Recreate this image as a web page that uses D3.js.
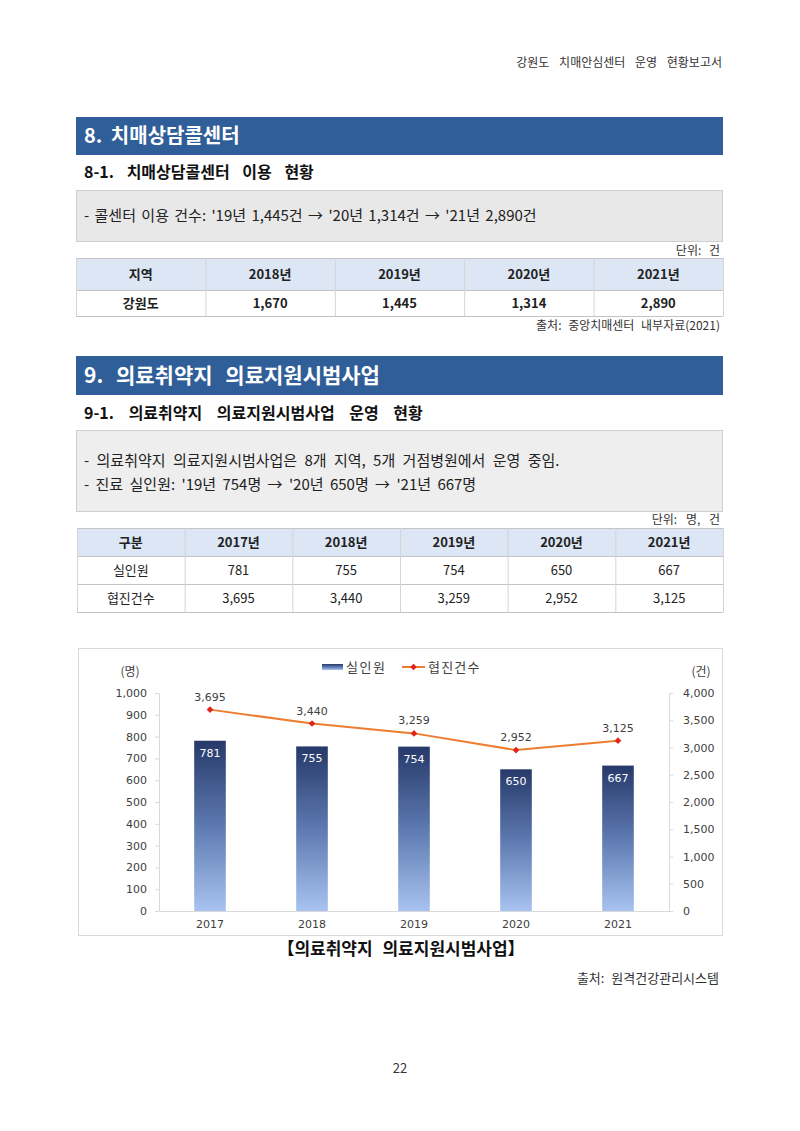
<!DOCTYPE html>
<html>
<head>
<meta charset="utf-8">
<script src="https://cdn.jsdelivr.net/npm/d3@7"></script>
<style>
body { margin: 0; background: #fff; }
svg { display: block; }
</style>
</head>
<body>
<svg id="svg"></svg>
<script>
// section 8 table
var callHead = ["지역", "2018년", "2019년", "2020년", "2021년"];
var callRegion = "강원도";
var callCounts = [1670, 1445, 1314, 2890];

// section 9 table + chart
var tableHead = ["구분", "2017년", "2018년", "2019년", "2020년", "2021년"];
var years = ["2017", "2018", "2019", "2020", "2021"];
var patients = [781, 755, 754, 650, 667];
var consults = [3695, 3440, 3259, 2952, 3125];
var seriesNames = ["실인원", "협진건수"];
var leftTicks = [0, 100, 200, 300, 400, 500, 600, 700, 800, 900, 1000];
var rightTicks = [0, 500, 1000, 1500, 2000, 2500, 3000, 3500, 4000];

var width = 800, height = 1131;
var KR = "'Noto Sans CJK KR', 'Noto Sans', sans-serif";
var CH = "'DejaVu Sans', 'Noto Sans CJK KR', sans-serif";
var fmt = d3.format(",");

var svg = d3.select("#svg")
	.attr("width", width)
	.attr("height", height)
	.style("font-family", KR);

function text(x, y, str, size, anchor, weight, color, ws)
{
	return svg.append("text")
		.attr("x", x)
		.attr("y", y)
		.attr("text-anchor", anchor || "start")
		.style("font-size", size + "px")
		.style("font-weight", weight || "normal")
		.style("word-spacing", (ws || 0) + "px")
		.style("fill", color || "#222")
		.text(str);
}

function sectionBar(y0, y1, str, baseline, size, ws)
{
	svg.append("rect")
		.attr("x", 76).attr("y", y0)
		.attr("width", 647).attr("height", y1 - y0)
		.style("fill", "#305e98");
	text(84, baseline, str, size, "start", "bold", "#fff", ws);
}

function grayBox(y0, y1, fill)
{
	svg.append("rect")
		.attr("x", 76.5).attr("y", y0 + 0.5)
		.attr("width", 646).attr("height", y1 - y0)
		.style("fill", fill)
		.style("stroke", "#cfcfcf");
}

function table(x0, x1, rowsY, head, rows, boldBody)
{
	var n = head.length;
	var cx = d3.scaleBand().domain(d3.range(n)).range([x0, x1]);
	svg.append("rect")
		.attr("x", x0).attr("y", rowsY[0])
		.attr("width", x1 - x0).attr("height", rowsY[1] - rowsY[0])
		.style("fill", "#dce6f4");
	rowsY.forEach(function(y) {
		svg.append("line")
			.attr("x1", x0).attr("x2", x1)
			.attr("y1", y + 0.5).attr("y2", y + 0.5)
			.style("stroke", "#c4c4c4");
	});
	d3.range(n + 1).forEach(function(i) {
		var x = i == n ? x1 : cx(i);
		svg.append("line")
			.attr("x1", x + 0.5).attr("x2", x + 0.5)
			.attr("y1", rowsY[0]).attr("y2", rowsY[rowsY.length - 1])
			.style("stroke", "#d4d4d4");
	});
	var all = [head].concat(rows);
	all.forEach(function(r, j) {
		var yc = (rowsY[j] + rowsY[j + 1]) / 2 + 5;
		r.forEach(function(v, i) {
			text(cx(i) + cx.bandwidth() / 2, yc, v, 13, "middle",
				(j == 0 || boldBody) ? "bold" : "normal", "#222");
		});
	});
}

// page header
text(722, 67, "강원도 치매안심센터 운영 현황보고서", 12, "end", "normal", "#333", 7);

// ---- section 8
sectionBar(117, 155, "8. 치매상담콜센터", 143, 20, 4);
text(84, 178, "8-1. 치매상담콜센터 이용 현황", 16, "start", "bold", "#111", 9);
grayBox(190, 241, "#e8e8e8");
text(84, 221, "- 콜센터 이용 건수: '19년 1,445건 → '20년 1,314건 → '21년 2,890건", 15, "start", "normal", "#222", 2);
text(720, 255, "단위: 건", 12, "end", "normal", "#333", 5);
table(76, 723, [258, 290, 316], callHead, [[callRegion].concat(callCounts.map(fmt))], true);
text(720, 330, "출처: 중앙치매센터 내부자료(2021)", 12, "end", "normal", "#333", 4);

// ---- section 9
sectionBar(356, 395, "9. 의료취약지 의료지원시범사업", 383, 21, 8);
text(84, 419, "9-1. 의료취약지 의료지원시범사업 운영 현황", 16, "start", "bold", "#111", 11);
grayBox(430, 511, "#eeeeee");
text(84, 466, "- 의료취약지 의료지원시범사업은 8개 지역, 5개 거점병원에서 운영 중임.", 15, "start", "normal", "#222", 4);
text(84, 490, "- 진료 실인원: '19년 754명 → '20년 650명 → '21년 667명", 15, "start", "normal", "#222", 3);
text(720, 524, "단위: 명, 건", 12, "end", "normal", "#333", 6);
table(77, 723, [528, 556, 584, 612], tableHead,
	[[seriesNames[0]].concat(patients.map(fmt)), [seriesNames[1]].concat(consults.map(fmt))], false);

// ---- chart
svg.append("rect")
	.attr("x", 78.5).attr("y", 648.5)
	.attr("width", 644).attr("height", 287)
	.style("fill", "#fff")
	.style("stroke", "#d9d9d9");

var defs = svg.append("defs");
var grad = defs.append("linearGradient")
	.attr("id", "barGrad")
	.attr("x1", 0).attr("y1", 0).attr("x2", 0).attr("y2", 1);
grad.append("stop").attr("offset", "0%").attr("stop-color", "#26396a");
grad.append("stop").attr("offset", "50%").attr("stop-color", "#5d79b0");
grad.append("stop").attr("offset", "100%").attr("stop-color", "#a8c3f0");

var x = d3.scaleBand()
	.domain(years)
	.range([159, 669])
	.paddingInner(0.69)
	.paddingOuter(0.345);
var y = d3.scaleLinear().domain([0, 1000]).range([911, 693]);
var y2 = d3.scaleLinear().domain([0, 4000]).range([911, 693]);

svg.selectAll(".bar")
	.data(patients)
	.enter()
	.append("rect")
	.attr("class", "bar")
	.attr("x", function(d, i) { return x(years[i]); })
	.attr("y", function(d) { return y(d); })
	.attr("width", x.bandwidth())
	.attr("height", function(d) { return y(0) - y(d); })
	.style("fill", "url(#barGrad)");

svg.selectAll(".barLabel")
	.data(patients)
	.enter()
	.append("text")
	.attr("class", "barLabel")
	.attr("x", function(d, i) { return x(years[i]) + x.bandwidth() / 2; })
	.attr("y", function(d) { return y(d) + 16; })
	.attr("text-anchor", "middle")
	.style("font-family", CH)
	.style("font-size", "11px")
	.style("fill", "#fff")
	.text(fmt);

function styleAxis(g)
{
	g.selectAll("path, line").style("stroke", "#d9d9d9");
	g.selectAll("text")
		.style("font-family", CH)
		.style("font-size", "11px")
		.style("fill", "#404040");
}

svg.append("g")
	.attr("transform", "translate(159,0)")
	.call(d3.axisLeft(y).tickValues(leftTicks).tickSize(4).tickSizeOuter(0).tickPadding(8).tickFormat(fmt))
	.call(styleAxis);
svg.append("g")
	.attr("transform", "translate(669,0)")
	.call(d3.axisRight(y2).tickValues(rightTicks).tickSize(4).tickSizeOuter(0).tickPadding(10).tickFormat(fmt))
	.call(styleAxis);
svg.append("g")
	.attr("transform", "translate(0,911)")
	.call(d3.axisBottom(x).tickSize(0).tickPadding(9))
	.call(styleAxis);

var line = d3.line()
	.x(function(d, i) { return x(years[i]) + x.bandwidth() / 2; })
	.y(function(d) { return y2(d); });
svg.append("path")
	.datum(consults)
	.attr("d", line)
	.style("fill", "none")
	.style("stroke", "#ed7d31")
	.style("stroke-width", 2);

var diamond = d3.symbol().type(d3.symbolSquare).size(22);
svg.selectAll(".dot")
	.data(consults)
	.enter()
	.append("path")
	.attr("class", "dot")
	.attr("d", diamond)
	.attr("transform", function(d, i) {
		return "translate(" + (x(years[i]) + x.bandwidth() / 2) + "," + y2(d) + ") rotate(45)";
	})
	.style("fill", "#e0261c");

svg.selectAll(".lineLabel")
	.data(consults)
	.enter()
	.append("text")
	.attr("class", "lineLabel")
	.attr("x", function(d, i) { return x(years[i]) + x.bandwidth() / 2; })
	.attr("y", function(d) { return y2(d) - 9; })
	.attr("text-anchor", "middle")
	.style("font-family", CH)
	.style("font-size", "11px")
	.style("fill", "#404040")
	.text(fmt);

// axis units
text(130, 676, "(명)", 12, "middle", "normal", "#404040");
text(701, 676, "(건)", 12, "middle", "normal", "#404040");

// legend
svg.append("rect")
	.attr("x", 322).attr("y", 664)
	.attr("width", 21).attr("height", 6)
	.style("fill", "url(#barGrad)");
text(346, 672, seriesNames[0], 13, "start", "normal", "#404040").style("letter-spacing", "1.5px");
svg.append("line")
	.attr("x1", 402).attr("x2", 425)
	.attr("y1", 667).attr("y2", 667)
	.style("stroke", "#ed7d31")
	.style("stroke-width", 2);
svg.append("path")
	.attr("d", diamond)
	.attr("transform", "translate(413.5,667) rotate(45)")
	.style("fill", "#e0261c");
text(428, 672, seriesNames[1], 13, "start", "normal", "#404040").style("letter-spacing", "1.2px");

// caption and source
text(401, 955, "【의료취약지 의료지원시범사업】", 17, "middle", "bold", "#111", 6);
text(719, 983, "출처: 원격건강관리시스템", 13, "end", "normal", "#333", 4);

// page number
text(400, 1073, "22", 13, "middle", "normal", "#333");
</script>
</body>
</html>
